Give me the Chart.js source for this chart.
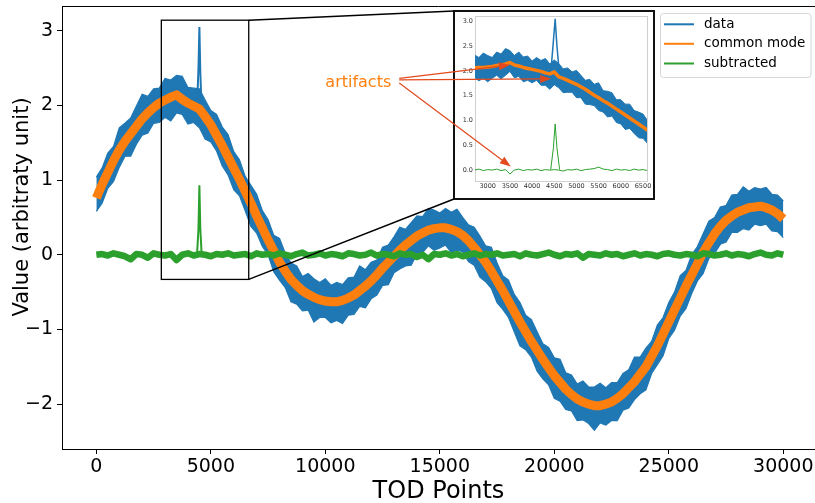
<!DOCTYPE html>
<html><head><meta charset="utf-8">
<script src="https://cdn.jsdelivr.net/npm/chart.js@4.4.1/dist/chart.umd.min.js"></script>
<style>
html,body{margin:0;padding:0;background:#fff;overflow:hidden;width:815px;height:503px;}
#wrap{position:relative;width:815px;height:503px;overflow:hidden;}
#main{position:absolute;left:0;top:0;}
#insetBox{position:absolute;left:453px;top:10px;width:198px;height:186px;border:2px solid #111;background:#fff;}
#inset{display:block;}
#overlay{position:absolute;left:0;top:0;pointer-events:none;}
</style></head>
<body><div id="wrap">
<canvas id="main" width="815" height="506"></canvas>
<div id="insetBox"><canvas id="inset" width="198" height="186"></canvas></div>
<canvas id="overlay" width="815" height="503"></canvas>
</div>
<script>
// ---------- data ----------
const todPoints = Array.from({length:121}, (_, i) => i * 250);   // TOD sample positions
const commonMode = [0.76,0.94,1.10,1.26,1.40,1.52,1.62,1.72,1.82,1.90,
1.97,2.03,2.07,2.11,2.14,2.08,2.03,1.99,1.95,1.85,
1.74,1.60,1.46,1.31,1.16,1.01,0.85,0.69,0.52,0.36,
0.20,0.05,-0.10,-0.22,-0.33,-0.41,-0.48,-0.53,-0.57,-0.60,
-0.62,-0.63,-0.63,-0.61,-0.58,-0.54,-0.48,-0.42,-0.35,-0.27,
-0.18,-0.10,-0.02,0.06,0.13,0.19,0.25,0.29,0.33,0.35,
0.36,0.36,0.34,0.31,0.26,0.19,0.10,0.00,-0.10,-0.22,
-0.35,-0.48,-0.62,-0.76,-0.90,-1.03,-1.16,-1.28,-1.40,-1.51,
-1.62,-1.71,-1.80,-1.87,-1.93,-1.97,-2.00,-2.02,-2.02,-2.00,
-1.97,-1.92,-1.86,-1.78,-1.70,-1.60,-1.50,-1.36,-1.22,-1.06,
-0.90,-0.74,-0.58,-0.42,-0.27,-0.12,0.03,0.16,0.28,0.38,
0.46,0.52,0.57,0.60,0.63,0.64,0.65,0.63,0.60,0.55,
0.48];
// upper / lower envelope of the noisy "data" series
const dataUpper = [1.04,1.16,1.36,1.45,1.70,1.76,1.83,1.99,2.15,2.12,
2.22,2.23,2.36,2.34,2.40,2.39,2.24,2.23,2.22,2.07,
1.93,1.88,1.71,1.61,1.38,1.27,1.05,0.93,0.81,0.59,
0.47,0.26,0.22,0.02,-0.11,-0.15,-0.29,-0.25,-0.32,-0.37,
-0.32,-0.41,-0.37,-0.40,-0.31,-0.30,-0.15,-0.20,-0.10,-0.07,
0.10,0.13,0.24,0.37,0.34,0.43,0.52,0.51,0.62,0.60,
0.56,0.62,0.57,0.61,0.50,0.40,0.37,0.25,0.12,0.10,
-0.11,-0.28,-0.34,-0.53,-0.64,-0.81,-0.87,-1.03,-1.19,-1.24,
-1.38,-1.40,-1.58,-1.61,-1.73,-1.69,-1.77,-1.77,-1.72,-1.78,
-1.71,-1.71,-1.59,-1.54,-1.37,-1.37,-1.25,-1.16,-0.94,-0.84,
-0.64,-0.50,-0.28,-0.21,0.00,0.11,0.28,0.45,0.50,0.64,
0.66,0.80,0.81,0.91,0.85,0.90,0.88,0.90,0.81,0.80,
0.72];
const dataLower = [0.58,0.69,0.89,0.98,1.17,1.32,1.32,1.48,1.60,1.63,
1.76,1.77,1.84,1.79,1.90,1.88,1.75,1.77,1.70,1.55,
1.51,1.39,1.19,1.07,0.87,0.79,0.59,0.38,0.29,0.11,
0.00,-0.23,-0.34,-0.44,-0.63,-0.66,-0.75,-0.74,-0.90,-0.84,
-0.84,-0.91,-0.88,-0.92,-0.81,-0.80,-0.69,-0.71,-0.59,-0.54,
-0.41,-0.40,-0.24,-0.19,-0.15,-0.14,0.01,0.03,0.12,0.06,
0.09,0.13,0.03,0.06,0.04,-0.09,-0.14,-0.30,-0.36,-0.45,
-0.64,-0.73,-0.84,-1.03,-1.22,-1.27,-1.37,-1.56,-1.66,-1.74,
-1.92,-1.96,-2.07,-2.09,-2.22,-2.21,-2.26,-2.35,-2.25,-2.28,
-2.22,-2.22,-2.08,-2.05,-1.94,-1.86,-1.81,-1.59,-1.47,-1.35,
-1.12,-1.01,-0.82,-0.72,-0.52,-0.35,-0.25,-0.05,0.02,0.14,
0.17,0.30,0.30,0.35,0.33,0.41,0.39,0.41,0.32,0.31,
0.23];
const subtracted = [0.00,0.01,-0.01,0.02,0.00,-0.02,-0.06,0.01,0.00,-0.04,
0.02,0.00,-0.01,0.01,-0.07,0.00,0.02,-0.01,0.01,0.00,
-0.02,0.01,0.00,0.02,-0.01,0.00,0.01,-0.02,0.02,0.00,
0.01,-0.01,0.02,0.00,-0.02,0.01,0.03,-0.01,0.00,0.02,
-0.01,0.01,0.00,-0.02,0.02,0.01,-0.01,0.00,0.03,-0.01,
0.01,0.00,-0.02,0.02,0.00,0.01,-0.03,0.00,-0.06,0.01,
0.00,0.02,-0.01,0.01,-0.02,0.00,0.02,-0.01,0.01,0.00,
0.02,-0.01,0.00,0.01,-0.02,0.02,0.00,-0.01,0.01,0.03,
0.00,-0.02,0.01,0.00,0.02,-0.04,0.01,0.00,-0.01,0.02,
0.00,0.01,-0.02,0.00,0.02,-0.01,0.01,0.00,-0.02,0.01,
0.02,0.00,-0.01,0.01,0.00,-0.02,0.02,0.01,-0.01,0.00,
0.02,-0.01,0.01,0.00,-0.02,0.01,0.03,0.00,-0.01,0.02,
0.00];
// the artifact spike near TOD 4500
const spikeX = [4400,4460,4500,4540,4600];
const dataSpike = [2.00,2.50,3.05,2.45,1.92];
const subtractedSpike = [0.02,0.35,0.93,0.35,0.00];

// zoomed inset (TOD 2700 – 6600)
const insetX = Array.from({length:40}, (_, i) => 2700 + i * 100);
const insetCommon = [2.06,2.07,2.07,2.08,2.09,2.11,2.12,2.14,2.17,2.12,
2.10,2.07,2.05,2.03,2.01,1.99,1.96,1.94,1.98,1.88,
1.85,1.81,1.77,1.73,1.68,1.63,1.57,1.51,1.46,1.40,
1.35,1.29,1.23,1.17,1.11,1.05,0.99,0.93,0.87,0.80];
const insetUpper = [2.32,2.27,2.36,2.31,2.27,2.38,2.34,2.45,2.41,2.31,
2.38,2.28,2.30,2.20,2.27,2.21,2.25,2.14,2.22,2.15,
2.04,2.06,1.98,2.01,1.91,1.81,1.83,1.73,1.76,1.60,
1.59,1.56,1.42,1.42,1.33,1.33,1.20,1.17,1.13,1.00];
const insetLower = [1.87,1.80,1.85,1.78,1.85,1.91,1.84,1.91,1.99,1.86,
1.89,1.78,1.81,1.76,1.81,1.71,1.71,1.63,1.72,1.66,
1.56,1.57,1.57,1.46,1.46,1.33,1.32,1.30,1.20,1.17,
1.07,1.09,0.96,0.93,0.82,0.84,0.74,0.65,0.64,0.54];
const insetSubtracted = [0.00,0.02,-0.01,0.01,0.00,0.02,-0.01,0.01,-0.08,0.00,
0.02,-0.01,0.01,0.00,0.02,-0.01,0.01,0.00,0.01,0.00,
-0.02,0.01,0.00,0.02,-0.01,0.01,0.02,0.03,0.06,0.02,
0.01,-0.01,0.02,0.00,0.01,-0.01,0.02,0.00,0.01,-0.01];
const insetSpikeX = [4420,4480,4520,4560,4620];
const insetDataSpike = [1.95,2.60,3.05,2.50,1.90];
const insetSubSpike = [0.01,0.45,0.93,0.45,0.01];

// ticks
const xTicks = [0,5000,10000,15000,20000,25000,30000];
const yTicks = [-2,-1,0,1,2,3];
const insetXTicks = [3000,3500,4000,4500,5000,5500,6000,6500];
const insetYTicks = [0,0.5,1,1.5,2,2.5,3];

// labels / annotation
const seriesNames = ['data','common mode','subtracted'];
const xTitle = 'TOD Points';
const yTitle = 'Value (arbitraty unit)';
const annText = 'artifacts';
const annPos = [10000, 2.24];                 // main-axis data coords of the text
const arrowTargets = [[3500,2.12],[4430,1.84],[3519,0.07]]; // inset data coords
const zoomBox = [2838, 6655, -0.33, 3.14];    // x0, x1, y0, y1

// ---------- styling ----------
const BLUE = '#1f77b4', ORANGE = '#ff7f0e', GREEN = '#2ca02c';
const F = 'DejaVu Sans';
Chart.defaults.font.family = F;
const pts = (xs, ys) => xs.map((x, i) => ({x, y: ys[i]}));
const fmtMinus = v => v < 0 ? '\u2212' + Math.abs(v) : String(v);
const noPad = s => { s.paddingTop = 0; s.paddingBottom = 0; s.paddingLeft = 0; s.paddingRight = 0; };

const mainDecor = {
  id: 'mainDecor',
  afterDatasetsDraw(chart) {
    const {ctx, scales: {x, y}} = chart;
    ctx.save();
    const x0 = x.getPixelForValue(zoomBox[0]), x1 = x.getPixelForValue(zoomBox[1]);
    const y0 = y.getPixelForValue(zoomBox[3]), y1 = y.getPixelForValue(zoomBox[2]);
    ctx.strokeStyle = '#000'; ctx.lineWidth = 1.3;
    ctx.strokeRect(x0, y0, x1 - x0, y1 - y0);
    ctx.restore();
  },
  afterDraw(chart) {
    const {ctx, chartArea: a, scales: {x, y}} = chart;
    ctx.save();
    // top spine
    ctx.strokeStyle = '#000'; ctx.lineWidth = 1;
    ctx.beginPath(); ctx.moveTo(a.left, a.top + 0.5); ctx.lineTo(a.right, a.top + 0.5); ctx.stroke();
    // y-axis title
    ctx.save();
    ctx.translate(23, 207); ctx.rotate(-Math.PI / 2);
    ctx.font = '21px "' + F + '"'; ctx.fillStyle = '#000'; ctx.textAlign = 'center'; ctx.textBaseline = 'middle';
    ctx.fillText(yTitle, 0, 0);
    ctx.restore();
    // legend
    const L = 660.5, T = 13.5, W = 150.5, H = 64, r = 3;
    ctx.beginPath();
    ctx.moveTo(L + r, T); ctx.lineTo(L + W - r, T); ctx.arcTo(L + W, T, L + W, T + r, r);
    ctx.lineTo(L + W, T + H - r); ctx.arcTo(L + W, T + H, L + W - r, T + H, r);
    ctx.lineTo(L + r, T + H); ctx.arcTo(L, T + H, L, T + H - r, r);
    ctx.lineTo(L, T + r); ctx.arcTo(L, T, L + r, T, r); ctx.closePath();
    ctx.fillStyle = 'rgba(255,255,255,0.85)'; ctx.fill();
    ctx.strokeStyle = '#d6d6d6'; ctx.lineWidth = 1; ctx.stroke();
    const cols = [BLUE, ORANGE, GREEN];
    const rows = [24.3, 43.8, 63.5];
    ctx.font = '13.5px "' + F + '"'; ctx.textBaseline = 'middle'; ctx.textAlign = 'left';
    seriesNames.forEach((n, i) => {
      ctx.strokeStyle = cols[i]; ctx.lineWidth = 2;
      ctx.beginPath(); ctx.moveTo(664, rows[i]); ctx.lineTo(694, rows[i]); ctx.stroke();
      ctx.fillStyle = '#000'; ctx.fillText(n, 704, rows[i]);
    });
    // annotation text
    ctx.font = '16px "' + F + '"'; ctx.fillStyle = ORANGE; ctx.textBaseline = 'alphabetic';
    ctx.fillText(annText, x.getPixelForValue(annPos[0]), y.getPixelForValue(annPos[1]));
    ctx.restore();
  }
};

const mainChart = new Chart(document.getElementById('main'), {
  type: 'line',
  data: { datasets: [
    {label: 'subtracted (spike)', data: pts(spikeX, subtractedSpike), borderColor: GREEN, borderWidth: 2, pointRadius: 0, fill: false},
    {label: seriesNames[2], data: pts(todPoints, subtracted), borderColor: GREEN, borderWidth: 6.5, pointRadius: 0, fill: false, borderJoinStyle: 'round'},
    {label: seriesNames[1], data: pts(todPoints, commonMode), borderColor: ORANGE, borderWidth: 9, pointRadius: 0, fill: false, borderJoinStyle: 'round', borderCapStyle: 'butt'},
    {label: 'data (spike)', data: pts(spikeX, dataSpike), borderColor: BLUE, borderWidth: 2, pointRadius: 0, fill: false},
    {label: seriesNames[0], data: pts(todPoints, dataUpper), borderColor: BLUE, backgroundColor: BLUE, borderWidth: 1.2, pointRadius: 0, fill: '+1'},
    {label: 'data (lower)', data: pts(todPoints, dataLower), borderColor: BLUE, borderWidth: 1.2, pointRadius: 0, fill: false}
  ]},
  options: {
    responsive: false, animation: false, devicePixelRatio: 1,
    layout: {padding: {left: 10, top: 6, right: 0, bottom: 0}},
    plugins: {legend: {display: false}, tooltip: {enabled: false}},
    scales: {
      x: {
        type: 'linear', min: -1500, max: 31385,
        afterBuildTicks: s => { s.ticks = xTicks.map(v => ({value: v})); },
        afterFit: s => { s.height = 57; noPad(s); },
        ticks: {font: {size: 19}, color: '#000', padding: 2, maxRotation: 0, autoSkip: false, callback: v => fmtMinus(v)},
        grid: {display: true, drawOnChartArea: false, drawTicks: true, tickLength: 5, tickColor: '#000', tickWidth: 1},
        border: {display: true, color: '#000', width: 1},
        title: {display: true, text: xTitle, color: '#000', font: {size: 24}, padding: 0}
      },
      y: {
        type: 'linear', min: -2.6, max: 3.33,
        afterBuildTicks: s => { s.ticks = yTicks.map(v => ({value: v})); },
        afterFit: s => { s.width = 52; noPad(s); },
        ticks: {font: {size: 19}, color: '#000', padding: 4, autoSkip: false, callback: v => fmtMinus(v)},
        grid: {display: true, drawOnChartArea: false, drawTicks: true, tickLength: 5, tickColor: '#000', tickWidth: 1},
        border: {display: true, color: '#000', width: 1},
        title: {display: false, text: yTitle}
      }
    }
  },
  plugins: [mainDecor]
});

const insetFrame = {
  id: 'insetFrame',
  beforeDatasetsDraw(chart) {
    const {ctx, chartArea: a} = chart;
    ctx.save(); ctx.strokeStyle = '#cfcfcf'; ctx.lineWidth = 1;
    ctx.strokeRect(Math.round(a.left) + 0.5, Math.round(a.top) + 0.5, Math.round(a.right - a.left), Math.round(a.bottom - a.top));
    ctx.restore();
  }
};

const insetChart = new Chart(document.getElementById('inset'), {
  type: 'line',
  data: { datasets: [
    {label: 'subtracted (spike)', data: pts(insetSpikeX, insetSubSpike), borderColor: GREEN, borderWidth: 1, pointRadius: 0, fill: false},
    {label: seriesNames[2], data: pts(insetX, insetSubtracted), borderColor: GREEN, borderWidth: 1, pointRadius: 0, fill: false},
    {label: seriesNames[1], data: pts(insetX, insetCommon), borderColor: ORANGE, borderWidth: 3.5, pointRadius: 0, fill: false, borderJoinStyle: 'round'},
    {label: 'data (spike)', data: pts(insetSpikeX, insetDataSpike), borderColor: BLUE, borderWidth: 1.5, pointRadius: 0, fill: false},
    {label: seriesNames[0], data: pts(insetX, insetUpper), borderColor: BLUE, backgroundColor: BLUE, borderWidth: 1, pointRadius: 0, fill: '+1'},
    {label: 'data (lower)', data: pts(insetX, insetLower), borderColor: BLUE, borderWidth: 1, pointRadius: 0, fill: false}
  ]},
  options: {
    responsive: false, animation: false, devicePixelRatio: 1,
    layout: {padding: {left: 0, top: 4, right: 6, bottom: 0}},
    plugins: {legend: {display: false}, tooltip: {enabled: false}},
    scales: {
      x: {
        type: 'linear', min: 2713, max: 6590,
        afterBuildTicks: s => { s.ticks = insetXTicks.map(v => ({value: v})); },
        afterFit: s => { s.height = 17; noPad(s); },
        ticks: {font: {size: 6.5}, color: '#333', padding: 1, maxRotation: 0, autoSkip: false, callback: v => String(v)},
        grid: {display: true, drawOnChartArea: false, drawTicks: false},
        border: {display: false}
      },
      y: {
        type: 'linear', min: -0.22, max: 3.107,
        afterBuildTicks: s => { s.ticks = insetYTicks.map(v => ({value: v})); },
        afterFit: s => { s.width = 20; noPad(s); },
        ticks: {font: {size: 6.5}, color: '#333', padding: 2, autoSkip: false, callback: v => v.toFixed(1)},
        grid: {display: true, drawOnChartArea: false, drawTicks: false},
        border: {display: false}
      }
    }
  },
  plugins: [insetFrame]
});

// ---------- overlay: connectors and annotation arrows ----------
(function drawOverlay() {
  const c = document.getElementById('overlay'); const ctx = c.getContext('2d');
  const mx = mainChart.scales.x, my = mainChart.scales.y;
  const ix = insetChart.scales.x, iy = insetChart.scales.y;
  const box = document.getElementById('insetBox');
  const bl = box.offsetLeft, bt = box.offsetTop, bh = box.offsetHeight;
  const offX = bl + box.clientLeft, offY = bt + box.clientTop;
  // connector lines from zoom rectangle to inset frame
  ctx.strokeStyle = '#000'; ctx.lineWidth = 1.5;
  const rx = mx.getPixelForValue(zoomBox[1]);
  ctx.beginPath();
  ctx.moveTo(rx, my.getPixelForValue(zoomBox[3])); ctx.lineTo(bl + 1, bt + 1);
  ctx.moveTo(rx, my.getPixelForValue(zoomBox[2])); ctx.lineTo(bl + 1, bt + bh - 1);
  ctx.stroke();
  // arrows
  ctx.font = '16px "' + F + '"';
  const tx = mx.getPixelForValue(annPos[0]) + ctx.measureText(annText).width + 8;
  const ty = my.getPixelForValue(annPos[1]) - 6;
  const dys = [-3, -1.5, 1.5];
  const col = '#e2491c';
  arrowTargets.forEach((t, i) => {
    const sx = tx, sy = ty + dys[i];
    const ex = offX + ix.getPixelForValue(t[0]), ey = offY + iy.getPixelForValue(t[1]);
    const ang = Math.atan2(ey - sy, ex - sx);
    const hl = 11, hw = 4;
    const bx = ex - hl * Math.cos(ang), by = ey - hl * Math.sin(ang);
    ctx.strokeStyle = col; ctx.lineWidth = 1.2;
    ctx.beginPath(); ctx.moveTo(sx, sy); ctx.lineTo(bx, by); ctx.stroke();
    ctx.fillStyle = col;
    ctx.beginPath();
    ctx.moveTo(ex, ey);
    ctx.lineTo(bx + hw * Math.sin(ang), by - hw * Math.cos(ang));
    ctx.lineTo(bx - hw * Math.sin(ang), by + hw * Math.cos(ang));
    ctx.closePath(); ctx.fill();
  });
})();
</script>
</body></html>
